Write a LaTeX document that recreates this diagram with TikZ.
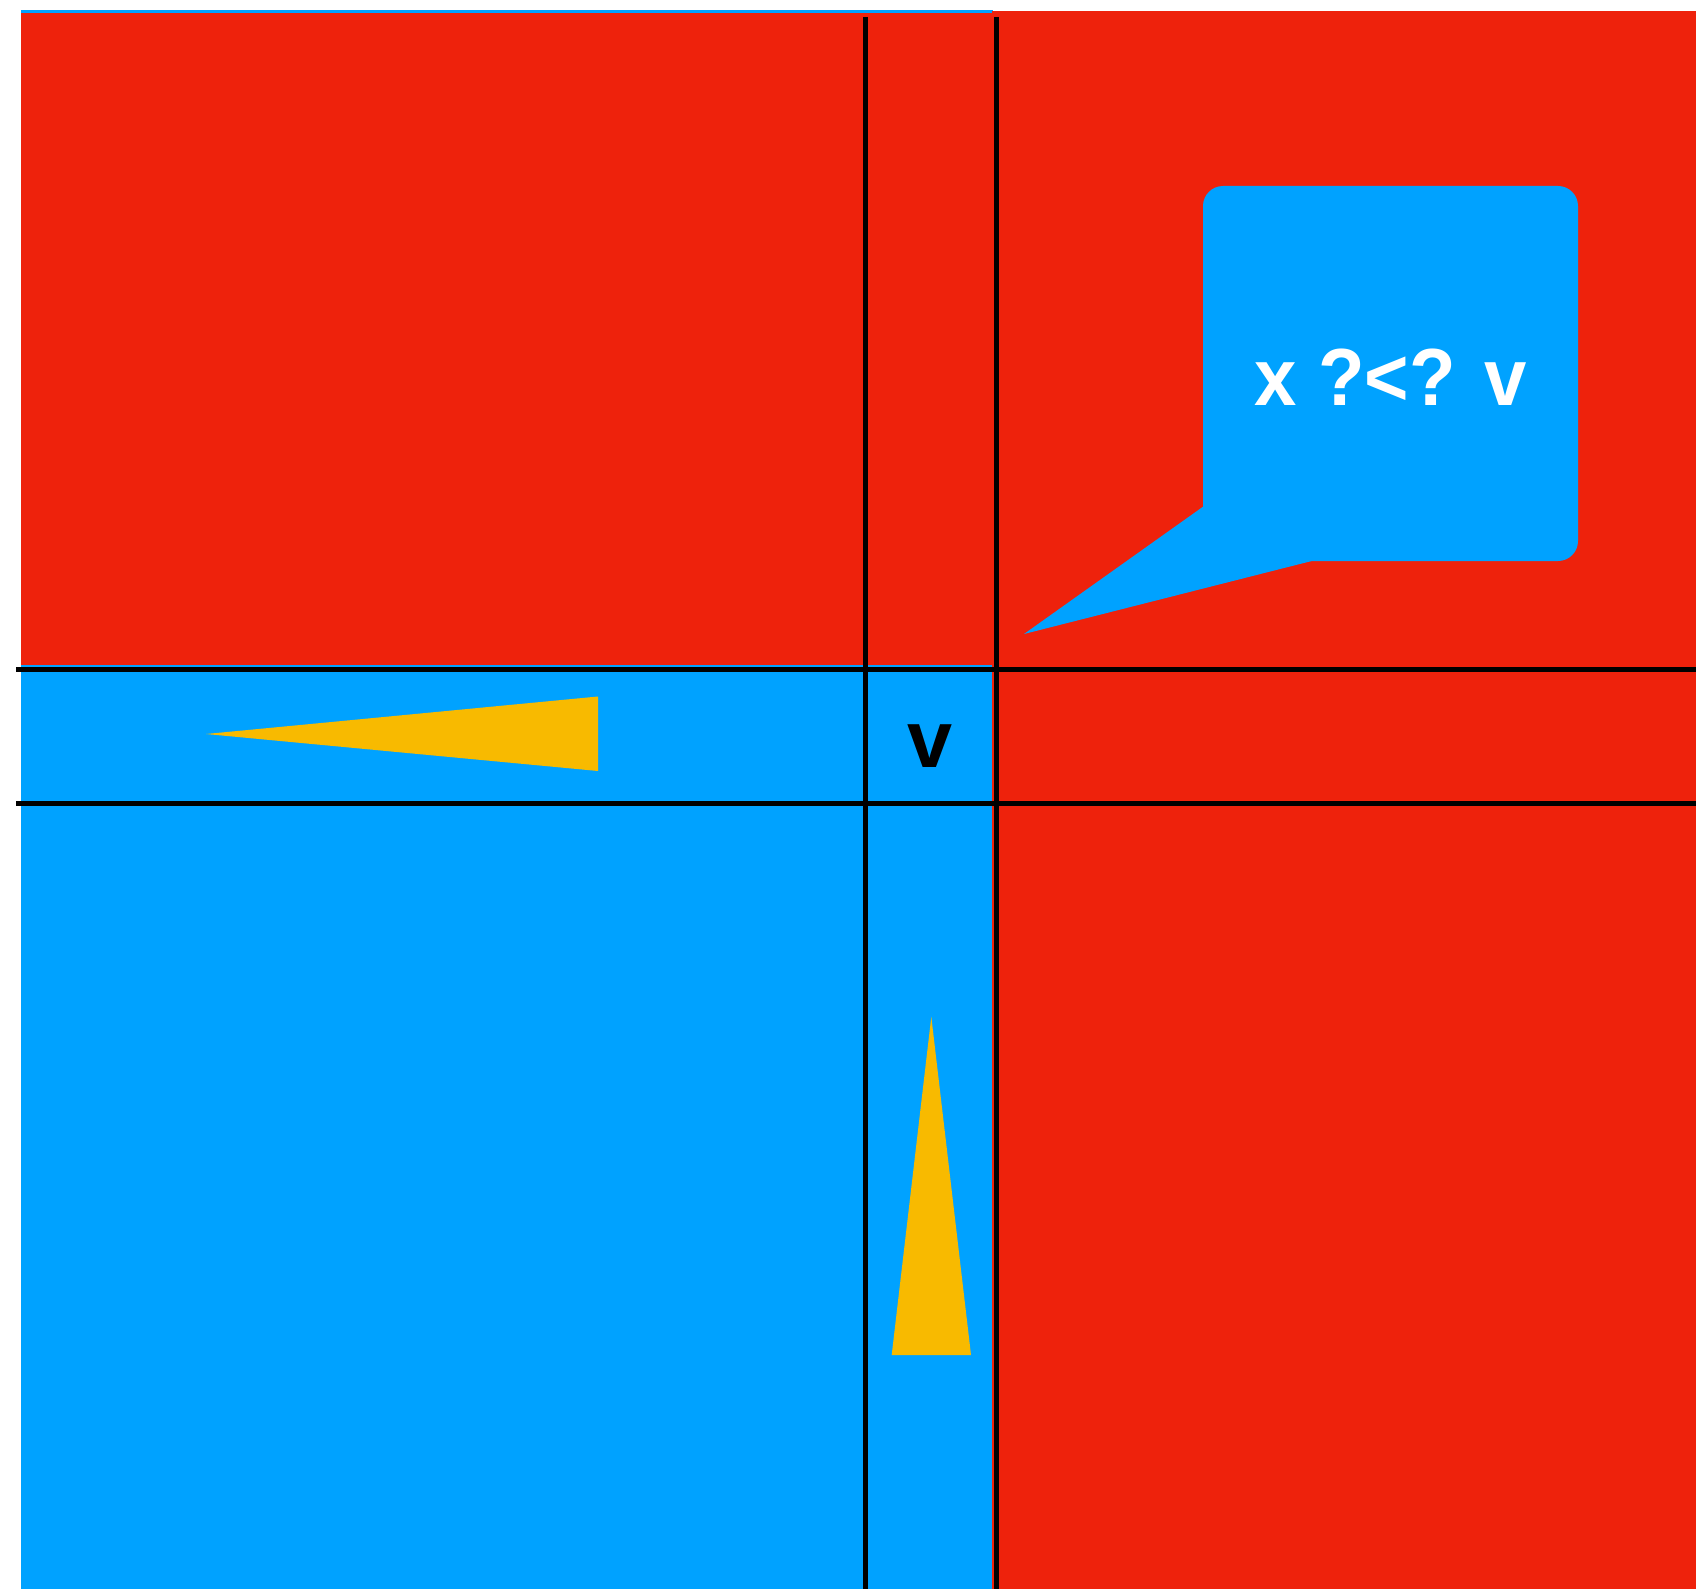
\documentclass[tikz,border=0pt]{standalone}
\usepackage{fontspec}
\usepackage{graphicx}
\setmainfont{Liberation Sans}
\definecolor{kred}{HTML}{EE220C}
\definecolor{kblue}{HTML}{00A2FF}
\definecolor{kyellow}{HTML}{F8BA00}
\begin{document}
\begin{tikzpicture}[x=0.5pt,y=-0.5pt,
  gridline/.style={line width=2.5pt,black},
  lbl/.style={inner sep=0pt,anchor=base}]
\useasboundingbox (0,0) rectangle (1696,1589);
% regions
\fill[kblue] (21,10) rectangle (993,1589);
\fill[kred] (21,13) rectangle (993,665);
\fill[kred] (992,11) rectangle (1696,1589);
% yellow triangles
\fill[kyellow] (206,734) -- (598,696.5) -- (598,771) -- cycle;
\fill[kyellow] (931.3,1016.7) -- (971,1355) -- (891.7,1355) -- cycle;
% callout
\fill[kblue,rounded corners=10pt] (1203,186) rectangle (1578,561);
\fill[kblue] (1203,506.7) -- (1203,480) -- (1320,480) -- (1311.7,561) -- (1024,634) -- cycle;
\node[lbl,text=white,font=\fontsize{40.5pt}{48pt}\selectfont\bfseries] (q) at (1390.7,405) {\scalebox{0.94}[1]{x ?<? v}};
% grid lines
\draw[gridline] (16,669.5) -- (1696,669.5);
\draw[gridline] (16,803) -- (1696,803);
\draw[gridline] (865,17) -- (865,1589);
\draw[gridline] (996.5,17) -- (996.5,1589);
\node[lbl,font=\fontsize{40.5pt}{48pt}\selectfont\bfseries] (v) at (930.5,767) {v};
\end{tikzpicture}
\end{document}
